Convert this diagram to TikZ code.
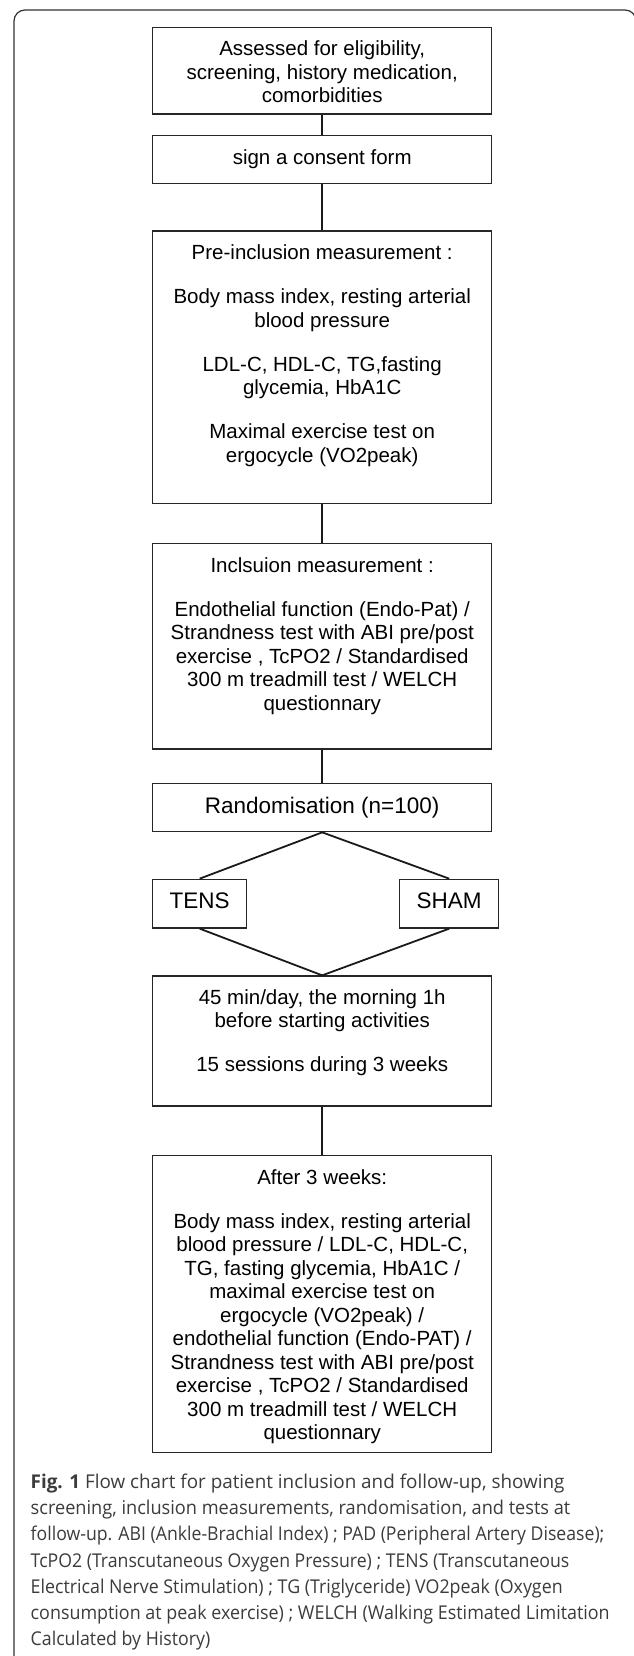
\documentclass[tikz,border=0pt]{standalone}
\usepackage{graphicx}
\usepackage{fontspec}
\setmainfont{Liberation Sans}
\newfontfamily\capfont{Open Sans}
\definecolor{boxc}{HTML}{262626}
\definecolor{linec}{HTML}{1A1A1A}
\definecolor{framec}{HTML}{333333}
\definecolor{capc}{HTML}{3C3C3C}
\newlength\capw
\newcommand\capl[2]{\settowidth\capw{#2}\pgfmathsetmacro\capsc{#1/\capw}\scalebox{\capsc}[1]{#2}}
\begin{document}
\begin{tikzpicture}[x=1pt,y=-1pt,
  box/.style={draw=boxc, line width=1.3pt, minimum width=339pt, inner sep=0pt},
  sbox/.style={draw=boxc, line width=1.3pt, inner sep=0pt, minimum height=48.7pt},
  txt/.style={align=center, inner sep=0pt, anchor=north, text=black, font=\fontsize{20.5}{23.5}\selectfont},
  bigtxt/.style={align=center, inner sep=0pt, anchor=north, text=black, font=\fontsize{22.5}{26}\selectfont},
  link/.style={draw=linec, line width=1.8pt},
]
\useasboundingbox (0,0) rectangle (633,1656);
\fill[white] (0,0) rectangle (633,1656);
\draw[framec, line width=1.2pt, rounded corners=11pt] (14,1720) -- (14,10) -- (636,10) -- (636,1720);

% boxes
\node[box, minimum height=86.7pt] (b1) at (322.2,70.65) {};
\node[box, minimum height=47.6pt] (b2) at (322.2,159.5) {};
\node[box, minimum height=272.3pt] (b3) at (322.2,367.15) {};
\node[box, minimum height=205.7pt] (b4) at (322.2,646.15) {};
\node[box, minimum height=48pt] (rand) at (322.2,807.7) {};
\node[sbox, minimum width=94pt] (tens) at (199.7,903.65) {};
\node[sbox, minimum width=99pt] (sham) at (449.2,903.65) {};
\node[box, minimum height=130pt] (b5) at (322.2,1041) {};
\node[box, minimum height=297pt] (b6) at (322.2,1304.2) {};

% texts
\node[txt] (t1) at (322.2,39.1) {\strut Assessed for eligibility,\\screening, history medication,\\comorbidities};
\node[txt] (t2) at (322.2,147.5) {\strut sign a consent form};
\node[txt] (t3) at (322.2,243.1) {\strut Pre-inclusion measurement :\\[20.5pt]
Body mass index, resting arterial\\blood pressure\\[20.5pt]
LDL-C, HDL-C, TG,fasting\\glycemia, HbA1C\\[20.5pt]
Maximal exercise test on\\ergocycle (VO2peak)};
\node[txt] (t4) at (322.2,555.8) {\strut Inclsuion measurement :\\[20.5pt]
Endothelial function (Endo-Pat) /\\Strandness test with ABI pre/post\\exercise , TcPO2 / Standardised\\300 m treadmill test / WELCH\\questionnary};
\node[bigtxt] (trand) at (322.2,795.55) {\strut Randomisation (n=100)};
\node[bigtxt] (ttens) at (199.7,890.55) {\strut TENS};
\node[bigtxt] (tsham) at (449.2,890.55) {\strut SHAM};
\node[txt] (t5) at (322.2,987.5) {\strut 45 min/day, the morning 1h\\before starting activities\\[20.5pt]
15 sessions during 3 weeks};
\node[txt] (t6) at (322.2,1167.5) {\strut After 3 weeks:\\[20.5pt]
Body mass index, resting arterial\\blood pressure / LDL-C, HDL-C,\\TG, fasting glycemia, HbA1C /\\maximal exercise test on\\ergocycle (VO2peak) /\\endothelial function (Endo-PAT) /\\Strandness test with ABI pre/post\\exercise , TcPO2 / Standardised\\300 m treadmill test / WELCH\\questionnary};

% connectors
\draw[link] (b1.south) -- (b2.north);
\draw[link] (b2.south) -- (b3.north);
\draw[link] (b3.south) -- (b4.north);
\draw[link] (b4.south) -- (rand.north);
\draw[link] (rand.south) -- (tens.north);
\draw[link] (rand.south) -- (sham.north);
\draw[link] (tens.south) -- (b5.north);
\draw[link] (sham.south) -- (b5.north);
\draw[link] (b5.south) -- (b6.north);

% caption
\node[anchor=north west, inner sep=0pt, align=left, text=capc, font=\capfont\fontsize{19}{26.2}\selectfont] (cap) at (30.5,1470)
{\strut\capl{533.7}{\textbf{Fig. 1} Flow chart for patient inclusion and follow-up, showing}\\
\capl{539.7}{screening, inclusion measurements, randomisation, and tests at}\\
\capl{573.7}{follow-up. ABI (Ankle-Brachial Index) ; PAD (Peripheral Artery Disease);}\\
\capl{538.7}{TcPO2 (Transcutaneous Oxygen Pressure) ; TENS (Transcutaneous}\\
\capl{532}{Electrical Nerve Stimulation) ; TG (Triglyceride) VO2peak (Oxygen}\\
\capl{579}{consumption at peak exercise) ; WELCH (Walking Estimated Limitation}\\
\capl{179.6}{Calculated by History)}};
\end{tikzpicture}
\end{document}
